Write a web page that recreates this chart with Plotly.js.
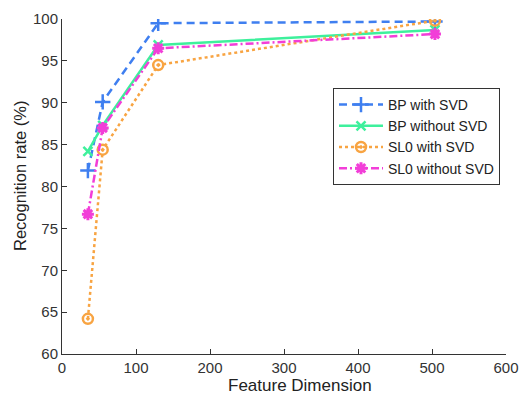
<!DOCTYPE html>
<html>
<head>
<meta charset="utf-8">
<script src="https://cdn.plot.ly/plotly-3.0.1.min.js"></script>
<style>html,body{margin:0;padding:0;background:#fff;}#chart{width:523px;height:396px;}</style>
</head>
<body>
<div id="chart"></div>
<script>
const featureDim = [35, 55, 130, 504];
const bpWithSVD = [81.9, 90.1, 99.5, 99.7];
const bpWithoutSVD = [84.2, 87.3, 96.9, 98.7];
const sl0WithSVD = [64.2, 84.4, 94.5, 99.8];
const sl0WithoutSVD = [76.7, 87.0, 96.5, 98.2];
const seriesNames = ['BP with SVD', 'BP without SVD', 'SL0 with SVD', 'SL0 without SVD'];
const xTicks = [0, 100, 200, 300, 400, 500, 600];
const yTicks = [60, 65, 70, 75, 80, 85, 90, 95, 100];

const traces = [
  {x: featureDim, y: bpWithSVD, name: seriesNames[0], mode: 'lines+markers',
   line: {color: '#3f7ff0', width: 2.5, dash: '8px,5px'},
   marker: {symbol: 'cross-thin-open', size: 11, line: {color: '#3f7ff0', width: 2.5}}},
  {x: featureDim, y: bpWithoutSVD, name: seriesNames[1], mode: 'lines+markers',
   line: {color: '#3ef09c', width: 2.5},
   marker: {symbol: 'x-thin-open', size: 9, line: {color: '#3ef09c', width: 2.5}}},
  {x: featureDim, y: sl0WithSVD, name: seriesNames[2], mode: 'lines+markers',
   line: {color: '#f8a442', width: 2.5, dash: 'dot'},
   marker: {symbol: 'circle-dot', size: 10, color: 'rgba(0,0,0,0)', line: {color: '#f8a442', width: 2.5}}},
  {x: featureDim, y: sl0WithoutSVD, name: seriesNames[3], mode: 'lines+markers',
   line: {color: '#f23ed8', width: 2.5, dash: '8px,3px,2px,3px'},
   marker: {symbol: 'asterisk-open', size: 10, line: {color: '#f23ed8', width: 3}}}
];

const L = 62, T = 19, W = 444, H = 335;
const layout = {
  width: 523, height: 396,
  margin: {l: L, r: 523 - L - W, t: T, b: 396 - T - H},
  paper_bgcolor: '#fff', plot_bgcolor: '#fff',
  font: {family: 'Arial, "Liberation Sans", sans-serif', size: 15, color: '#333'},
  showlegend: true,
  legend: {x: (333 - L) / W, y: 1 - (88 - T) / H, xanchor: 'left', yanchor: 'top',
    bgcolor: '#fff', bordercolor: '#333', borderwidth: 1,
    font: {size: 14, color: '#222'}, tracegroupgap: 0, itemwidth: 44},
  xaxis: {range: [0, 600], tickvals: xTicks, tickfont: {size: 15, color: '#333'},
    showgrid: false, zeroline: false, showline: true, linecolor: '#333', linewidth: 1,
    ticks: 'inside', ticklen: 5, tickcolor: '#333'},
  yaxis: {range: [60, 100], tickvals: yTicks, tickfont: {size: 15, color: '#333'},
    showgrid: false, zeroline: false, showline: true, linecolor: '#333', linewidth: 1,
    ticks: 'inside', ticklen: 5, tickcolor: '#333'},
  annotations: [
    {text: 'Recognition rate (%)', textangle: -90, showarrow: false,
     xref: 'paper', yref: 'paper', x: (20 - L) / W, y: 1 - (176 - T) / H,
     xanchor: 'center', yanchor: 'middle', font: {size: 16.5, color: '#222'}},
    {text: 'Feature Dimension', showarrow: false, borderpad: 0,
     xref: 'paper', yref: 'paper', x: (300 - L) / W, y: 1 - (385 - T) / H,
     xanchor: 'center', yanchor: 'middle', font: {size: 17, color: '#222'}}]
};

Plotly.newPlot('chart', traces, layout, {displayModeBar: false, staticPlot: true});
</script>
</body>
</html>
